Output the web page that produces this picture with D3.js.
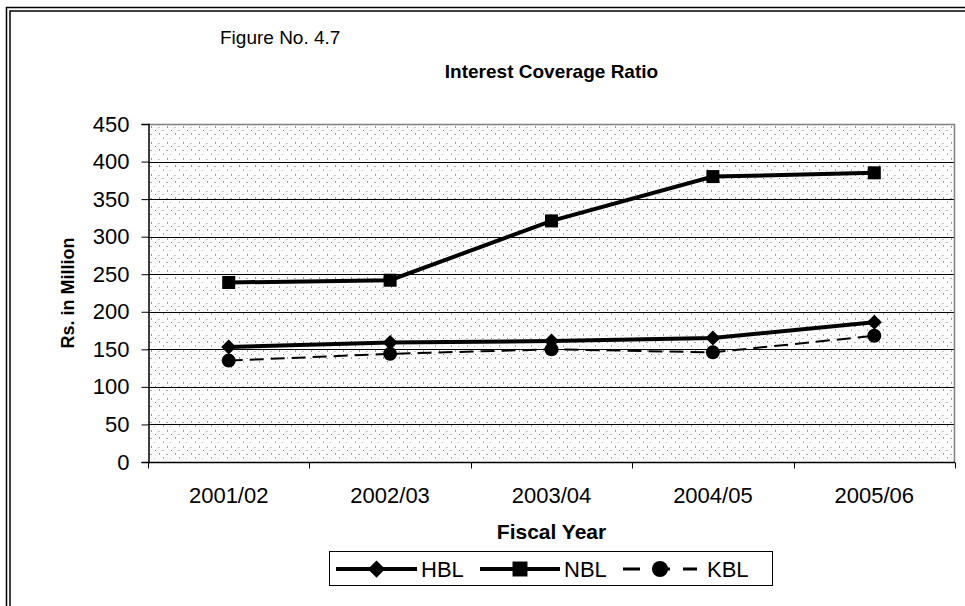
<!DOCTYPE html>
<html>
<head>
<meta charset="utf-8">
<script src="https://cdn.jsdelivr.net/npm/d3@7"></script>
<style>
  html, body { margin: 0; padding: 0; background: #fff; }
  svg { display: block; font-family: Arial, "Liberation Sans", sans-serif; }
</style>
</head>
<body>
<svg id="chart" width="965" height="606"></svg>
<script>
// Fiscal years on the category axis
const years = ["2001/02", "2002/03", "2003/04", "2004/05", "2005/06"];
// Interest coverage (Rs. in Million) per bank
const hbl = [153, 159, 161, 165, 186];
const nbl = [239, 242, 321, 380, 385];
const kbl = [135, 144, 150, 146, 168];
// Value axis ticks
const yTicks = [0, 50, 100, 150, 200, 250, 300, 350, 400, 450];

const series = [
  { name: "HBL", values: hbl, marker: "diamond", dashed: false },
  { name: "NBL", values: nbl, marker: "square", dashed: false },
  { name: "KBL", values: kbl, marker: "circle", dashed: true }
];

const svg = d3.select("#chart");
const plot = { left: 148, top: 124, right: 955, bottom: 462 };

const x = d3.scaleBand().domain(years).range([plot.left, plot.right]);
const y = d3.scaleLinear().domain([0, 450]).range([plot.bottom, plot.top]);
const cx = c => x(c) + x.bandwidth() / 2;

// Double frame around the figure
svg.append("path")
  .attr("d", "M6.5,606 V7.5 H965")
  .attr("fill", "none").attr("stroke", "#000").attr("stroke-width", 1.5);
svg.append("path")
  .attr("d", "M10,606 V11 H965")
  .attr("fill", "none").attr("stroke", "#000").attr("stroke-width", 1.5);

// Stippled fill used for the plot background
const defs = svg.append("defs");
const pat = defs.append("pattern")
  .attr("id", "stipple").attr("patternUnits", "userSpaceOnUse")
  .attr("width", 16).attr("height", 16)
  .attr("x", plot.left).attr("y", plot.top);
pat.append("rect").attr("width", 16).attr("height", 16).attr("fill", "#fbfbfb");
const dots = [
  [3, 2, 1, 2, "#9a9a9a"], [10, 3, 2, 1, "#c4c4c4"],
  [7, 6, 1, 1, "#7c7c7c"], [14, 6, 2, 1, "#bdbdbd"],
  [2, 10, 2, 1, "#a8a8a8"], [11, 9, 1, 2, "#9a9a9a"],
  [6, 14, 1, 1, "#c4c4c4"], [15, 13, 1, 2, "#b0b0b0"]
];
dots.forEach(d => pat.append("rect")
  .attr("x", d[0]).attr("y", d[1]).attr("width", d[2]).attr("height", d[3]).attr("fill", d[4]));

svg.append("rect")
  .attr("x", plot.left).attr("y", plot.top)
  .attr("width", plot.right - plot.left).attr("height", plot.bottom - plot.top)
  .attr("fill", "url(#stipple)");

// Horizontal gridlines
svg.append("g").selectAll("line")
  .data(yTicks.filter(t => t > 0 && t < 450))
  .join("line")
  .attr("x1", plot.left).attr("x2", plot.right)
  .attr("y1", d => Math.round(y(d)) + 0.5).attr("y2", d => Math.round(y(d)) + 0.5)
  .attr("stroke", "#000").attr("stroke-width", 1);

// Top and right edges of the plot area
svg.append("path")
  .attr("d", `M${plot.left},${plot.top + 0.5} H${plot.right - 0.5} V${plot.bottom}`)
  .attr("fill", "none").attr("stroke", "#808080").attr("stroke-width", 1.5);

// Y axis
const yAxis = svg.append("g")
  .attr("transform", `translate(${plot.left + 0.5},0)`)
  .call(d3.axisLeft(y).tickValues(yTicks).tickSize(7).tickPadding(12));
yAxis.select(".domain").attr("stroke", "#000").attr("stroke-width", 1.5);
yAxis.selectAll(".tick line").attr("stroke", "#000");
yAxis.selectAll(".tick text")
  .attr("font-size", 22).attr("fill", "#000")
  .attr("font-family", "Arial, 'Liberation Sans', sans-serif");

// X axis: ticks sit on category boundaries
const xAxisG = svg.append("g")
  .attr("transform", `translate(0,${plot.bottom + 0.5})`);
xAxisG.append("line")
  .attr("x1", plot.left).attr("x2", plot.right)
  .attr("stroke", "#000").attr("stroke-width", 1.5);
const bounds = years.map(c => x(c)).concat([x(years[years.length - 1]) + x.bandwidth()]);
xAxisG.selectAll("line.tk").data(bounds).join("line")
  .attr("class", "tk")
  .attr("x1", d => Math.round(d) + 0.5).attr("x2", d => Math.round(d) + 0.5)
  .attr("y1", 0).attr("y2", 6)
  .attr("stroke", "#000");
xAxisG.selectAll("text").data(years).join("text")
  .attr("x", d => cx(d))
  .attr("y", 40)
  .attr("text-anchor", "middle")
  .attr("font-size", 22)
  .text(d => d);

// Titles
svg.append("text")
  .attr("x", 220).attr("y", 44)
  .attr("font-size", 19)
  .text("Figure No. 4.7");
svg.append("text")
  .attr("x", (plot.left + plot.right) / 2).attr("y", 78)
  .attr("text-anchor", "middle")
  .attr("font-size", 19).attr("font-weight", "bold")
  .text("Interest Coverage Ratio");
svg.append("text")
  .attr("x", (plot.left + plot.right) / 2).attr("y", 539)
  .attr("text-anchor", "middle")
  .attr("font-size", 21).attr("font-weight", "bold")
  .text("Fiscal Year");
svg.append("text")
  .attr("transform", `translate(74,${(plot.top + plot.bottom) / 2}) rotate(-90)`)
  .attr("text-anchor", "middle")
  .attr("font-size", 18).attr("font-weight", "bold")
  .text("Rs. in Million");

// Marker shapes
function marker(sel, type, k) {
  const s = k || 1;
  if (type === "diamond") {
    sel.append("path").attr("d", `M0,${-7.5 * s} L${7.5 * s},0 L0,${7.5 * s} L${-7.5 * s},0 Z`).attr("fill", "#000");
  } else if (type === "square") {
    sel.append("rect").attr("x", -6.5 * s).attr("y", -6.5 * s)
      .attr("width", 13 * s).attr("height", 13 * s).attr("fill", "#000");
  } else {
    sel.append("circle").attr("r", 7 * s).attr("fill", "#000");
  }
}

const line = d3.line()
  .x((d, i) => cx(years[i]))
  .y(d => y(d));

// Series lines and markers
series.forEach(s => {
  svg.append("path")
    .datum(s.values)
    .attr("d", line)
    .attr("fill", "none")
    .attr("stroke", "#000")
    .attr("stroke-width", s.dashed ? 2 : 4)
    .attr("stroke-dasharray", s.dashed ? "14,7" : null);
});
series.forEach(s => {
  svg.append("g").selectAll("g")
    .data(s.values)
    .join("g")
    .attr("transform", (d, i) => `translate(${cx(years[i])},${y(d)})`)
    .each(function () { marker(d3.select(this), s.marker); });
});

// Legend
const legend = svg.append("g");
legend.append("rect")
  .attr("x", 329.5).attr("y", 551.5).attr("width", 443).attr("height", 34)
  .attr("fill", "#fff").attr("stroke", "#000").attr("stroke-width", 1);
const legendItems = [
  { s: series[0], x0: 336, x1: 417, tx: 421 },
  { s: series[1], x0: 480, x1: 560, tx: 564 },
  { s: series[2], x0: 623, x1: 697, tx: 707 }
];
legendItems.forEach(it => {
  const cy = 569;
  legend.append("line")
    .attr("x1", it.x0).attr("x2", it.x1).attr("y1", cy).attr("y2", cy)
    .attr("stroke", "#000")
    .attr("stroke-width", it.s.dashed ? 3 : 4)
    .attr("stroke-dasharray", it.s.dashed ? "17,13" : null);
  marker(legend.append("g").attr("transform", `translate(${(it.x0 + it.x1) / 2},${cy})`), it.s.marker, 1.15);
  legend.append("text")
    .attr("x", it.tx).attr("y", 577)
    .attr("font-size", 22)
    .text(it.s.name);
});
</script>
</body>
</html>
